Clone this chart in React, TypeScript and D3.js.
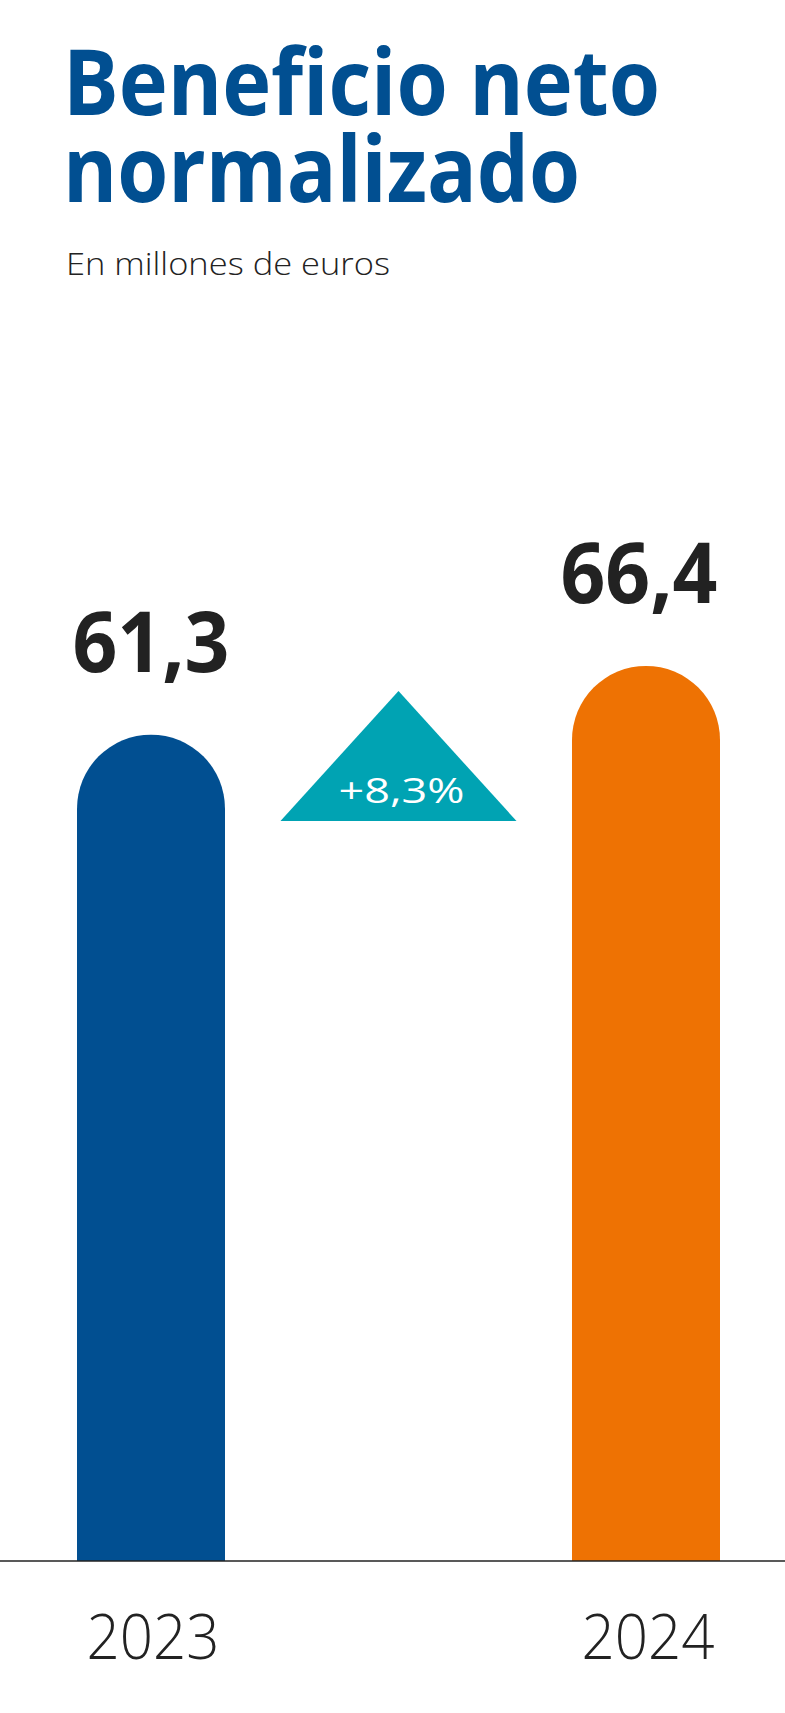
import React from 'react';
import * as d3 from 'd3';

const years = ['2023', '2024'];
const values = [61.3, 66.4];
const valueLabels = ['61,3', '66,4'];
const labelShift = [0, -7];
const barColors = ['#014f91', '#ee7203'];
const changeLabel = '+8,3%';

const W = 785;
const H = 1713;
const baseY = 1561;

const App: React.FC = () => {
  const x = d3.scaleBand<string>().domain(years).range([77, 720]).paddingInner(0.701).paddingOuter(0);
  const y = d3.scaleLinear().domain([0, 70]).range([baseY, baseY - 70 * 13.48]);
  const bw = x.bandwidth();
  const r = bw / 2;

  // bar with a half-round top
  const barPath = (year: string, v: number) => {
    const p = d3.path();
    const x0 = x(year) as number;
    const top = y(v);
    p.moveTo(x0, baseY);
    p.lineTo(x0, top + r);
    p.arc(x0 + r, top + r, r, Math.PI, 2 * Math.PI);
    p.lineTo(x0 + bw, baseY);
    p.closePath();
    return p.toString();
  };

  const mid = ((x(years[0]) as number) + (x(years[1]) as number) + bw) / 2;
  const tri = d3.path();
  tri.moveTo(mid, 691);
  tri.lineTo(mid + 118, 821);
  tri.lineTo(mid - 118, 821);
  tri.closePath();

  const font = "'Open Sans', 'Noto Sans', sans-serif";

  return (
    <svg width={W} height={H} viewBox={`0 0 ${W} ${H}`} style={{ position: 'absolute', left: 0, top: 0, background: '#fff' }}>
      <text fontFamily={font} fontWeight={700} fontSize={92} fill="#014f91">
        <tspan x={63} y={115} textLength={597} lengthAdjust="spacingAndGlyphs">Beneficio neto</tspan>
        <tspan x={63} y={202} textLength={517} lengthAdjust="spacingAndGlyphs">normalizado</tspan>
      </text>
      <text x={66} y={275} fontFamily={font} fontWeight={300} fontSize={31} fill="#222" textLength={324} lengthAdjust="spacingAndGlyphs">En millones de euros</text>

      {years.map((yr, i) => (
        <g key={yr}>
          <path d={barPath(yr, values[i])} fill={barColors[i]} />
          <text x={(x(yr) as number) + r + labelShift[i]} y={y(values[i]) - 63} textAnchor="middle" fontFamily={font} fontWeight={700} fontSize={84} fill="#222" textLength={157} lengthAdjust="spacingAndGlyphs">{valueLabels[i]}</text>
          <text x={(x(yr) as number) + r + 2} y={1659} textAnchor="middle" fontFamily={font} fontWeight={300} fontSize={62} fill="#222" textLength={133} lengthAdjust="spacingAndGlyphs">{yr}</text>
        </g>
      ))}

      <path d={tri.toString()} fill="#00a3b3" />
      <text x={mid + 3} y={803} textAnchor="middle" fontFamily={font} fontWeight={400} fontSize={35} fill="#fff" textLength={126} lengthAdjust="spacingAndGlyphs">{changeLabel}</text>

      <line x1={0} x2={W} y1={baseY} y2={baseY} stroke="#222" strokeWidth={1.5} />
    </svg>
  );
};

export default App;
